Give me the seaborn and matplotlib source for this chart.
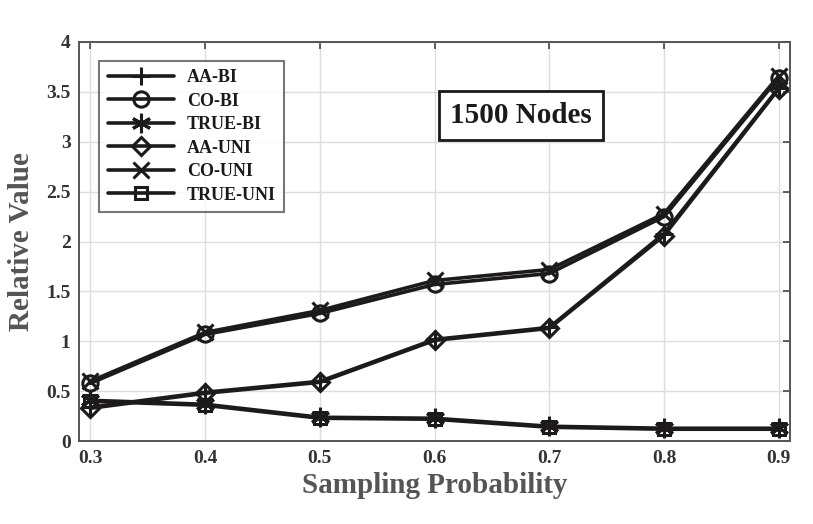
import matplotlib
matplotlib.use("Agg")
import numpy as np
import pandas as pd
import matplotlib.pyplot as plt
import seaborn as sns

# valores
prob = [0.3, 0.4, 0.5, 0.6, 0.7, 0.8, 0.9]
aa_bi = [0.34, 0.49, 0.60, 1.02, 1.14, 2.08, 3.54]
co_bi = [0.58, 1.07, 1.28, 1.57, 1.68, 2.25, 3.64]
true_bi = [0.41, 0.37, 0.24, 0.23, 0.15, 0.13, 0.13]
aa_uni = [0.33, 0.48, 0.59, 1.01, 1.13, 2.06, 3.53]
co_uni = [0.60, 1.09, 1.31, 1.61, 1.72, 2.28, 3.66]
true_uni = [0.40, 0.36, 0.23, 0.22, 0.14, 0.12, 0.12]

series = {
    "AA-BI": (aa_bi, "+", 13),
    "CO-BI": (co_bi, "o", 11),
    "TRUE-BI": (true_bi, (6, 2, 0), 14),
    "AA-UNI": (aa_uni, "D", 9),
    "CO-UNI": (co_uni, "x", 11),
    "TRUE-UNI": (true_uni, "s", 9),
}

sns.set_style("white")
plt.rcParams['font.family'] = ['Liberation Serif', 'DejaVu Serif']
plt.rcParams['font.weight'] = 'bold'

fig = plt.figure(figsize=(8.13, 5.24), dpi=100)
ax = fig.add_axes([0.097, 0.158, 0.875, 0.762])

line_col = "#1c1a1a"
for name, (vals, mk, msize) in series.items():
    df = pd.DataFrame({"p": prob, "v": vals})
    sns.lineplot(data=df, x="p", y="v", ax=ax, color=line_col, lw=2.6,
                 marker=mk, markersize=msize, mfc="none", mec=line_col,
                 mew=2.2, label=name)

ax.set_xlim(0.29, 0.91)
ax.set_ylim(0, 4)
ax.set_xticks(prob)
ax.set_xticklabels([f"{p:.1f}" for p in prob])
ax.set_yticks(np.arange(0, 4.01, 0.5))
ax.set_yticklabels(["0", "0.5", "1", "1.5", "2", "2.5", "3", "3.5", "4"])
ax.grid(True, color="#dddddd", lw=1)
ax.tick_params(direction="in", length=5, width=1.2, top=True, right=True,
               labelsize=14, labelcolor="#333333", color="#444444", pad=6)
for lab in ax.get_xticklabels() + ax.get_yticklabels():
    lab.set_fontweight("bold")
for sp in ax.spines.values():
    sp.set_color("#555555")
    sp.set_linewidth(1.4)

ax.set_xlabel("Sampling Probability", fontsize=21, fontweight="bold", color="#555555", labelpad=4)
ax.set_ylabel("Relative Value", fontsize=21, fontweight="bold", color="#555555", labelpad=8)

leg = ax.legend(loc="upper left", bbox_to_anchor=(0.029, 0.952), borderaxespad=0,
                fontsize=13, frameon=True, fancybox=False, edgecolor="#555555",
                handlelength=3.7, borderpad=0.45, labelspacing=0.36, handletextpad=0.7)
leg.get_frame().set_linewidth(1.5)
for t in leg.get_texts():
    t.set_fontweight("bold")
    t.set_color("#1a1a1a")

ax.text(0.675, 3.26, "1500 Nodes", fontsize=21, fontweight="bold", color="#1a1a1a",
        ha="center", va="center",
        bbox=dict(boxstyle="square,pad=0.38", fc="white", ec="#1a1a1a", lw=2))

fig.savefig("out.png", dpi=100)
